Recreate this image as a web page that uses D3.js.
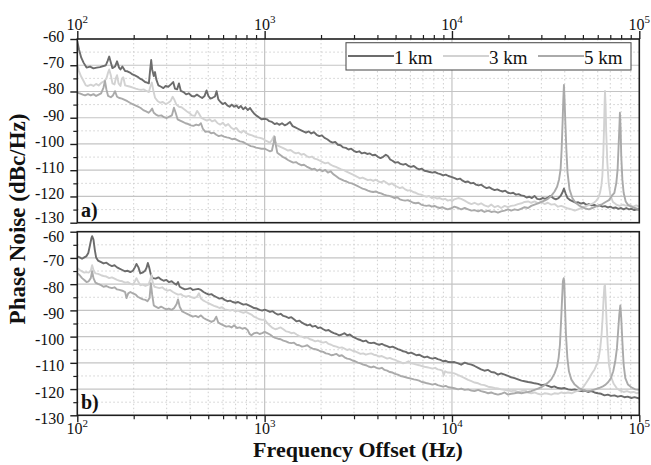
<!DOCTYPE html>
<html>
<head>
<meta charset="utf-8">
<script src="https://cdn.jsdelivr.net/npm/d3@7"></script>
<style>
  body { margin: 0; background: #fff; }
  svg { display: block; font-family: "Liberation Serif", "Times New Roman", serif; }
</style>
</head>
<body>
<svg id="chart" width="651" height="465"></svg>
<script>
// ---- data (frequency offset in Hz, phase noise in dBc/Hz) ----
var seriesNames = ['1 km', '3 km', '5 km'];
var yMajorTicks = [-60, -70, -80, -90, -100, -110, -120, -130];
var yMinorTicks = [-65, -75, -85, -95, -105, -115, -125];
var xDecades = [100, 1000, 10000, 100000];
var xDecadeExp = ['2', '3', '4', '5'];

// panel a)
var top1km = [[100,-60.8],[102,-63.9],[105,-67.1],[108,-69.0],[112,-70.9],[117,-70.5],[122,-71.2],[127,-70.9],[132,-70.7],[138,-70.3],[142,-70.0],[145,-68.4],[148,-66.7],[151,-69.0],[154,-71.1],[159,-70.5],[163,-68.5],[167,-70.9],[170,-71.6],[174,-70.5],[180,-72.2],[185,-72.3],[191,-72.8],[197,-73.5],[203,-73.9],[210,-74.4],[216,-75.1],[223,-75.6],[230,-76.4],[236,-76.6],[241,-76.9],[245,-71.6],[248,-68.0],[251,-71.6],[256,-74.1],[260,-72.6],[264,-75.4],[271,-77.7],[280,-78.2],[288,-78.7],[296,-77.9],[306,-78.2],[316,-77.3],[325,-76.4],[332,-78.9],[341,-79.2],[349,-76.9],[357,-79.8],[369,-80.2],[381,-81.1],[394,-80.7],[408,-81.7],[421,-81.9],[435,-81.2],[450,-81.9],[464,-82.5],[478,-81.7],[490,-79.6],[501,-81.7],[513,-82.7],[527,-82.4],[543,-81.9],[554,-79.9],[566,-83.0],[581,-84.0],[598,-84.8],[615,-84.3],[632,-85.3],[650,-85.8],[668,-85.0],[687,-85.8],[707,-85.3],[727,-86.3],[747,-85.5],[768,-86.8],[790,-86.0],[813,-87.1],[836,-86.3],[860,-87.6],[884,-88.6],[909,-89.3],[935,-89.9],[962,-90.6],
  [1000,-90.4],[1029,-90.6],[1059,-91.3],[1094,-91.6],[1131,-92.4],[1164,-92.1],[1197,-92.7],[1238,-92.1],[1279,-92.9],[1321,-92.4],[1365,-91.6],[1411,-93.2],[1458,-93.7],[1506,-94.2],[1556,-94.7],[1608,-95.2],[1662,-95.7],[1717,-95.2],[1774,-96.0],[1833,-95.5],[1894,-96.5],[1957,-97.0],[2022,-96.7],[2089,-97.7],[2159,-98.2],[2231,-99.0],[2305,-99.5],[2381,-99.2],[2461,-100.3],[2543,-100.5],[2627,-101.3],[2714,-101.5],[2804,-102.1],[2898,-101.8],[2994,-102.6],[3094,-103.1],[3197,-102.8],[3303,-103.6],[3414,-103.3],[3527,-103.8],[3644,-103.6],[3766,-104.3],[3891,-104.1],[4021,-104.9],[4155,-105.4],[4293,-104.9],[4436,-104.1],[4546,-104.6],[4679,-105.9],[4815,-106.4],[4975,-107.1],[5140,-106.9],[5311,-107.6],[5487,-107.9],[5670,-107.6],[5858,-108.4],[6054,-108.7],[6255,-108.4],[6463,-109.2],[6678,-109.7],[6900,-109.4],[7131,-110.2],[7367,-110.4],[7613,-110.7],[7866,-110.9],[8128,-110.7],[8398,-111.2],[8678,-111.5],[8966,-112.0],[9264,-111.7],[9572,-112.2],
  [10000,-112.6],[10330,-113.0],[10680,-113.5],[11030,-113.2],[11400,-114.0],[11780,-114.5],[12180,-114.3],[12580,-115.0],[13000,-114.8],[13430,-115.5],[13880,-115.8],[14340,-115.5],[14820,-116.3],[15310,-116.8],[15820,-116.5],[16340,-117.1],[16890,-117.6],[17450,-117.3],[18030,-117.8],[18630,-118.1],[19250,-117.8],[19890,-118.6],[20550,-118.8],[21230,-118.6],[21940,-119.3],[22670,-119.1],[23420,-119.6],[24200,-119.8],[25010,-120.4],[25840,-120.1],[26700,-120.6],[27580,-119.8],[28500,-120.9],[29450,-121.1],[30430,-120.6],[31460,-120.9],[32500,-120.4],[33590,-119.8],[34700,-120.6],[35850,-121.1],[37050,-120.6],[38000,-119.8],[38800,-118.6],[39600,-117.0],[40400,-118.8],[41400,-120.6],[42800,-121.4],[44200,-121.9],[45700,-122.4],[47200,-122.2],[48800,-122.7],[50400,-122.4],[52100,-123.2],[53800,-122.9],[55600,-123.4],[57500,-123.2],[59400,-123.7],[61400,-123.4],[63500,-123.9],[65600,-123.7],[67900,-124.2],[70000,-123.9],[72300,-124.4],[74700,-124.2],[77300,-124.7],[79900,-124.4],[82500,-124.9],[85200,-124.4],[88100,-124.9],[91000,-124.7],[94100,-125.2],[97200,-124.9],[100000,-125.0]];

var top3km = [[100,-69.7],[102,-72.2],[105,-74.4],[108,-76.0],[111,-77.7],[114,-77.9],[118,-77.4],[122,-77.9],[126,-77.1],[130,-77.7],[135,-76.6],[139,-76.1],[143,-75.1],[146,-72.8],[148,-71.6],[151,-73.8],[154,-76.9],[158,-77.3],[161,-74.7],[163,-73.8],[166,-76.9],[170,-77.9],[173,-75.1],[176,-74.6],[180,-77.7],[185,-77.9],[192,-78.2],[198,-78.5],[205,-78.9],[212,-79.2],[219,-79.4],[226,-79.2],[234,-79.8],[241,-80.2],[246,-77.9],[250,-76.6],[255,-79.8],[260,-82.4],[268,-83.6],[277,-84.3],[286,-84.0],[296,-84.8],[306,-84.3],[315,-83.6],[323,-82.0],[329,-83.0],[338,-85.0],[349,-85.8],[360,-86.0],[372,-86.8],[385,-87.6],[398,-88.3],[410,-89.1],[424,-89.3],[436,-87.4],[445,-88.3],[460,-90.1],[476,-90.6],[492,-91.1],[508,-90.6],[525,-91.4],[543,-90.9],[561,-92.1],[580,-92.6],[598,-91.9],[618,-93.1],[639,-92.4],[661,-93.7],[683,-94.4],[706,-93.9],[730,-95.2],[752,-95.7],[772,-94.9],[799,-95.9],[826,-96.4],[858,-96.7],[886,-97.2],[916,-97.5],[946,-97.7],[977,-98.0],
  [1000,-98.5],[1033,-99.0],[1068,-99.5],[1094,-98.5],[1122,-97.0],[1140,-99.2],[1168,-100.5],[1207,-101.0],[1248,-101.5],[1290,-102.0],[1332,-102.5],[1376,-102.3],[1422,-103.1],[1470,-103.6],[1518,-103.3],[1569,-104.1],[1621,-103.8],[1676,-104.6],[1731,-105.1],[1788,-104.8],[1848,-105.6],[1909,-105.9],[1973,-106.4],[2038,-106.9],[2107,-107.4],[2177,-107.1],[2249,-107.9],[2323,-108.4],[2401,-108.7],[2480,-109.2],[2563,-109.7],[2648,-110.0],[2737,-110.5],[2828,-111.0],[2922,-111.5],[3020,-112.0],[3120,-112.5],[3224,-113.1],[3332,-112.8],[3442,-113.3],[3557,-113.8],[3674,-113.6],[3797,-114.1],[3924,-113.6],[4055,-114.3],[4189,-114.6],[4328,-114.1],[4472,-114.8],[4621,-115.5],[4775,-115.0],[4934,-115.8],[5098,-116.3],[5268,-116.8],[5443,-116.5],[5624,-117.3],[5811,-117.8],[6005,-117.6],[6204,-118.3],[6411,-118.6],[6624,-119.1],[6845,-119.3],[7072,-119.8],[7308,-120.1],[7551,-119.8],[7802,-120.6],[8062,-120.3],[8330,-120.8],[8607,-120.6],[8894,-121.1],[9190,-120.9],[9495,-121.6],[9811,-121.3],
  [10000,-121.8],[10300,-121.1],[10800,-120.6],[11200,-120.9],[11700,-121.6],[12200,-122.4],[12700,-122.9],[13200,-122.4],[13800,-123.1],[14300,-122.6],[14900,-123.4],[15600,-123.9],[16200,-123.1],[16900,-124.1],[17600,-123.6],[18300,-124.4],[19100,-123.6],[19900,-124.1],[20700,-123.6],[21600,-123.4],[22500,-122.9],[23500,-122.6],[24400,-122.1],[25500,-121.9],[26500,-122.4],[27600,-121.9],[28800,-122.6],[30000,-122.1],[31200,-122.9],[32500,-122.4],[33900,-123.1],[35300,-122.9],[36800,-123.9],[38300,-123.6],[39900,-124.1],[41700,-124.6],[43500,-124.9],[45200,-125.4],[47100,-124.9],[49100,-124.4],[51100,-123.9],[53200,-123.4],[55400,-122.9],[57300,-122.4],[59000,-121.6],[60400,-120.6],[61700,-118.6],[62700,-116.0],[63500,-112.2],[64200,-104.6],[64800,-94.4],[65300,-84.3],[65600,-79.8],[66100,-85.5],[66600,-95.7],[67500,-107.1],[68600,-114.7],[70000,-119.3],[72300,-122.1],[75400,-123.1],[78500,-123.6],[81800,-123.1],[85200,-123.6],[88800,-123.1],[92500,-123.9],[96400,-123.4],[100000,-123.9]];

var top5km = [[100,-80.5],[103,-80.7],[107,-81.2],[110,-81.5],[114,-81.0],[118,-81.5],[122,-81.0],[126,-81.7],[130,-81.2],[134,-80.7],[138,-78.5],[140.5,-76.0],[143,-79.2],[146,-81.7],[151,-82.2],[155,-81.5],[159,-79.9],[163,-82.0],[168,-82.5],[173,-82.7],[179,-83.2],[185,-83.7],[191,-84.3],[197,-84.8],[204,-85.3],[211,-85.8],[218,-86.3],[225,-87.1],[233,-87.6],[240,-88.1],[246,-87.4],[251,-86.5],[256,-88.1],[263,-88.8],[271,-89.3],[281,-89.1],[290,-89.8],[300,-90.1],[310,-89.6],[320,-89.1],[328,-86.2],[335,-88.1],[343,-90.6],[354,-91.1],[366,-91.6],[378,-92.1],[391,-92.4],[404,-92.9],[417,-93.1],[431,-92.6],[445,-92.9],[457,-92.1],[468,-94.2],[483,-95.4],[501,-95.2],[518,-95.9],[535,-95.7],[552,-96.5],[569,-97.0],[588,-96.7],[607,-97.2],[628,-97.5],[648,-97.7],[670,-98.2],[692,-98.0],[715,-98.5],[739,-99.0],[764,-99.2],[790,-99.8],[816,-100.3],[843,-100.8],[871,-101.0],[900,-101.4],[930,-101.6],[961,-101.8],
  [1000,-101.8],[1033,-102.3],[1068,-102.8],[1094,-102.5],[1117,-99.5],[1131,-97.2],[1145,-100.1],[1168,-103.3],[1207,-104.1],[1248,-104.9],[1290,-105.4],[1332,-106.1],[1376,-106.6],[1422,-107.1],[1470,-106.9],[1518,-107.6],[1569,-108.1],[1621,-107.9],[1676,-108.6],[1731,-109.1],[1788,-109.7],[1848,-109.4],[1909,-110.2],[1973,-109.7],[2038,-110.4],[2107,-109.9],[2177,-110.9],[2249,-110.4],[2323,-111.5],[2401,-112.2],[2480,-113.0],[2563,-113.5],[2648,-114.0],[2737,-114.3],[2828,-114.8],[2922,-115.0],[3020,-115.5],[3120,-116.0],[3224,-116.5],[3332,-117.0],[3442,-117.3],[3557,-117.8],[3674,-118.1],[3797,-118.3],[3924,-118.1],[4055,-118.6],[4189,-118.8],[4328,-119.3],[4472,-119.6],[4621,-119.8],[4775,-120.1],[4934,-120.6],[5098,-120.3],[5268,-121.1],[5443,-121.4],[5624,-121.6],[5811,-121.4],[6005,-121.9],[6204,-122.4],[6411,-122.6],[6624,-122.4],[6845,-123.1],[7072,-123.4],[7308,-123.6],[7551,-123.4],[7802,-123.9],[8062,-123.6],[8330,-124.1],[8607,-124.4],[8894,-124.1],[9190,-124.6],[9495,-124.9],[9811,-124.6],
  [10000,-124.4],[10300,-123.9],[10800,-124.4],[11200,-124.9],[11700,-124.4],[12200,-124.9],[12700,-125.4],[13200,-125.2],[13800,-125.7],[14300,-125.2],[14900,-125.9],[15600,-125.4],[16200,-125.9],[16900,-125.7],[17600,-126.2],[18300,-125.7],[19100,-125.4],[19900,-124.9],[20700,-125.4],[21600,-124.9],[22500,-125.2],[23500,-124.6],[24400,-124.1],[25500,-124.4],[26500,-123.6],[27600,-123.1],[28800,-122.6],[30000,-122.1],[31200,-121.6],[32500,-120.9],[33900,-119.8],[35300,-118.1],[36400,-116.3],[37300,-113.5],[38000,-109.7],[38500,-102.0],[39000,-90.6],[39300,-83.0],[39600,-77.5],[39900,-83.0],[40300,-91.9],[40800,-102.0],[41400,-110.9],[42400,-117.3],[43900,-120.6],[45700,-122.4],[47600,-123.4],[49600,-124.1],[51700,-124.6],[53800,-124.9],[56100,-124.4],[58500,-123.9],[60900,-123.4],[63500,-122.9],[66100,-122.1],[68900,-121.4],[71300,-119.8],[73600,-118.6],[75400,-114.8],[76600,-109.7],[77400,-102.0],[78200,-94.4],[78800,-88.1],[79500,-94.4],[80100,-104.6],[81200,-113.5],[82500,-118.6],[84600,-121.9],[87400,-123.4],[91000,-123.9],[94600,-124.4],[100000,-124.9]];

// panel b)
var bot1km = [[100,-69.4],[103,-69.8],[106,-70.3],[109,-69.8],[112,-69.3],[114.5,-68.1],[117,-65.0],[119,-62.4],[120,-61.7],[122,-63.0],[124,-66.9],[126,-69.8],[129,-71.0],[134,-71.6],[138,-72.1],[143,-71.8],[148,-72.6],[153,-73.1],[158,-72.8],[163,-73.6],[168,-74.1],[174,-74.6],[180,-75.1],[186,-74.9],[192,-75.4],[198,-74.9],[203,-73.6],[207,-72.3],[212,-73.6],[217,-75.9],[223,-75.6],[230,-74.9],[234,-73.8],[238,-71.9],[242,-73.6],[247,-76.4],[253,-77.7],[262,-77.9],[271,-77.4],[280,-78.2],[289,-78.7],[299,-78.4],[308,-79.2],[319,-78.9],[329,-79.7],[338,-80.2],[345,-79.2],[352,-81.0],[363,-81.5],[375,-82.0],[388,-81.8],[401,-81.5],[414,-82.2],[428,-82.0],[442,-81.8],[457,-82.2],[472,-83.0],[487,-83.5],[504,-84.0],[520,-83.8],[537,-84.5],[555,-85.0],[573,-85.5],[593,-85.3],[612,-86.0],[633,-86.5],[654,-86.3],[675,-86.8],[699,-87.1],[722,-86.8],[745,-87.3],[770,-87.8],[796,-87.6],[823,-88.1],[850,-88.6],[878,-89.1],[910,-89.3],[940,-89.8],[970,-90.1],
  [1000,-89.7],[1033,-90.1],[1068,-90.6],[1103,-90.3],[1140,-91.1],[1178,-91.6],[1218,-91.3],[1258,-92.1],[1300,-92.4],[1343,-92.9],[1388,-92.6],[1434,-93.4],[1482,-94.2],[1531,-93.9],[1582,-94.7],[1634,-95.2],[1689,-95.7],[1745,-95.4],[1803,-96.2],[1863,-95.9],[1925,-96.7],[1989,-96.5],[2055,-97.2],[2123,-97.7],[2194,-97.5],[2267,-98.2],[2342,-98.7],[2420,-99.0],[2501,-99.5],[2584,-99.2],[2670,-98.7],[2758,-99.5],[2850,-99.2],[2945,-100.0],[3043,-100.5],[3146,-101.0],[3250,-101.3],[3359,-101.8],[3470,-101.5],[3585,-102.3],[3705,-102.5],[3828,-102.3],[3955,-102.8],[4087,-103.1],[4223,-102.8],[4364,-103.3],[4509,-103.6],[4659,-104.1],[4815,-103.8],[4975,-104.3],[5140,-104.8],[5311,-105.1],[5487,-105.6],[5670,-105.8],[5858,-106.4],[6054,-106.1],[6255,-106.6],[6463,-107.1],[6678,-106.9],[6900,-107.4],[7131,-107.9],[7367,-107.6],[7613,-108.1],[7866,-108.4],[8128,-108.1],[8398,-108.6],[8678,-108.9],[8966,-109.4],[9264,-109.2],[9572,-109.7],
  [10000,-109.8],[10300,-109.7],[10800,-110.2],[11200,-110.7],[11700,-109.9],[12200,-110.4],[12700,-110.7],[13200,-111.2],[13800,-111.9],[14300,-112.5],[14900,-113.0],[15600,-112.7],[16200,-113.5],[16900,-113.7],[17600,-114.5],[18300,-114.0],[19100,-114.5],[19900,-115.0],[20700,-115.5],[21600,-115.8],[22500,-116.3],[23500,-116.8],[24400,-117.0],[25500,-117.3],[26500,-117.5],[27600,-117.8],[28800,-118.0],[30000,-118.5],[31200,-118.3],[32600,-118.8],[33900,-119.3],[35200,-119.0],[36800,-119.6],[38400,-119.8],[39900,-119.6],[41700,-120.1],[43500,-120.3],[45200,-120.1],[47100,-120.6],[49100,-120.8],[51100,-120.6],[53200,-121.1],[55400,-120.8],[57700,-121.3],[60100,-121.6],[62600,-121.8],[65200,-122.4],[67900,-122.1],[70700,-122.6],[73700,-122.4],[76700,-122.9],[79900,-122.6],[83300,-123.1],[86700,-122.9],[90700,-123.4],[94300,-123.1],[100000,-123.6]];

var bot3km = [[100,-73.8],[103,-74.6],[106,-75.1],[109,-75.6],[112,-75.4],[115,-75.6],[118,-74.9],[120,-72.8],[122,-74.6],[125,-75.9],[129,-76.1],[134,-76.6],[138,-76.9],[143,-77.1],[148,-77.7],[153,-77.4],[158,-77.9],[163,-78.4],[168,-78.7],[174,-78.9],[180,-79.4],[186,-79.2],[192,-79.9],[198,-80.2],[203,-78.9],[207,-77.7],[212,-79.2],[217,-80.4],[224,-80.2],[231,-80.7],[240,-80.2],[245,-78.3],[249,-76.5],[252,-78.9],[258,-81.0],[265,-81.2],[274,-81.5],[284,-81.2],[293,-82.0],[303,-82.5],[313,-82.2],[324,-83.0],[334,-83.5],[345,-84.0],[357,-83.8],[369,-84.5],[381,-84.8],[394,-84.5],[408,-85.0],[421,-85.3],[435,-84.8],[446,-83.5],[457,-85.5],[472,-86.3],[487,-86.8],[504,-87.3],[520,-87.8],[537,-88.3],[555,-88.6],[573,-89.1],[593,-88.8],[612,-89.6],[633,-89.8],[654,-90.1],[675,-89.8],[699,-90.4],[722,-90.1],[745,-90.6],[770,-90.9],[796,-90.6],[823,-91.1],[850,-91.6],[878,-92.4],[910,-92.9],[940,-93.4],[970,-93.6],
  [1000,-93.5],[1033,-94.8],[1068,-95.9],[1103,-96.7],[1140,-97.2],[1178,-96.9],[1218,-96.5],[1258,-97.2],[1300,-98.0],[1343,-98.2],[1388,-98.7],[1434,-98.5],[1482,-99.2],[1531,-99.8],[1582,-100.0],[1634,-100.5],[1689,-100.3],[1745,-101.0],[1803,-101.3],[1863,-101.8],[1925,-101.5],[1989,-102.0],[2055,-102.3],[2123,-102.0],[2194,-102.8],[2267,-103.1],[2342,-103.6],[2420,-103.8],[2501,-104.3],[2584,-104.1],[2670,-104.6],[2758,-105.1],[2850,-104.8],[2945,-105.4],[3043,-105.6],[3146,-106.1],[3250,-106.6],[3359,-106.4],[3470,-106.9],[3585,-106.6],[3705,-106.4],[3828,-106.9],[3955,-107.1],[4087,-107.6],[4223,-107.4],[4364,-107.9],[4509,-108.4],[4659,-108.1],[4815,-108.6],[4975,-108.9],[5140,-109.4],[5311,-109.7],[5487,-110.2],[5670,-109.9],[5858,-109.4],[6054,-110.2],[6255,-110.4],[6463,-110.7],[6678,-110.9],[6900,-111.2],[7131,-111.5],[7367,-111.7],[7613,-111.9],[7866,-112.2],[8128,-111.9],[8398,-112.5],[8678,-112.7],[8894,-113.0],[9040,-114.7],[9190,-113.2],[9495,-113.7],
  [10000,-113.8],[10300,-114.0],[10800,-114.7],[11200,-115.2],[11700,-115.8],[12200,-116.5],[12700,-117.0],[13200,-117.5],[13800,-117.8],[14300,-118.3],[14900,-118.5],[15600,-119.1],[16200,-119.3],[16900,-119.6],[17600,-119.8],[18300,-120.1],[19100,-120.3],[19900,-120.6],[20700,-120.8],[21600,-120.6],[22500,-121.1],[23500,-120.8],[24400,-120.3],[25500,-121.3],[26500,-121.6],[27600,-121.3],[28800,-121.8],[30000,-122.1],[31200,-121.6],[32600,-121.8],[33900,-122.1],[35200,-121.6],[36800,-121.8],[38400,-121.3],[39900,-121.6],[41700,-121.3],[43500,-121.6],[45200,-121.1],[47100,-120.6],[49100,-120.1],[50700,-118.8],[52400,-117.3],[54100,-115.8],[55900,-114.0],[57700,-112.5],[59400,-110.4],[60700,-108.1],[61900,-104.3],[62900,-99.2],[63700,-92.9],[64500,-85.3],[65100,-80.8],[65600,-80.4],[66100,-85.3],[66900,-94.2],[67800,-103.1],[68900,-110.7],[70600,-115.2],[73000,-118.0],[76000,-119.8],[79200,-120.6],[82500,-121.1],[86000,-120.8],[89500,-121.3],[93300,-121.1],[97200,-121.6],[100000,-121.3]];

var bot5km = [[100,-75.8],[103,-76.6],[106,-77.7],[109,-78.4],[112,-79.2],[115,-78.9],[118,-77.7],[120,-75.1],[122,-77.7],[125,-79.4],[129,-79.9],[134,-80.4],[138,-81.0],[143,-80.7],[148,-81.2],[153,-81.5],[158,-81.2],[163,-82.0],[168,-82.2],[174,-82.5],[180,-83.0],[183,-85.3],[187,-83.5],[192,-83.0],[198,-83.5],[205,-84.0],[210,-84.8],[217,-85.3],[224,-85.8],[231,-86.0],[237,-86.5],[243,-85.3],[247,-79.6],[251,-84.0],[256,-88.1],[262,-88.6],[271,-89.1],[280,-88.6],[289,-89.1],[299,-89.6],[308,-89.3],[319,-89.8],[329,-89.1],[339,-87.6],[345,-85.8],[352,-88.6],[363,-90.4],[375,-90.9],[388,-91.4],[401,-91.9],[414,-92.4],[428,-92.1],[442,-92.6],[457,-91.9],[472,-92.9],[487,-93.4],[504,-93.9],[520,-94.4],[537,-93.9],[552,-92.4],[566,-94.7],[585,-95.2],[604,-95.7],[624,-96.2],[645,-96.0],[666,-96.5],[688,-95.7],[712,-96.7],[736,-96.5],[760,-97.0],[786,-96.7],[812,-97.5],[832,-99.0],[850,-99.5],[878,-98.7],[910,-98.5],[940,-99.0],[970,-98.7],
  [1000,-98.2],[1033,-98.7],[1068,-99.2],[1103,-100.0],[1140,-100.5],[1178,-100.8],[1218,-101.0],[1258,-101.5],[1300,-101.8],[1343,-102.3],[1388,-102.5],[1434,-102.3],[1482,-103.1],[1531,-103.3],[1582,-103.8],[1634,-103.6],[1689,-103.3],[1745,-104.1],[1803,-104.6],[1863,-104.8],[1925,-105.1],[1989,-105.6],[2055,-105.8],[2123,-106.4],[2194,-106.6],[2267,-107.1],[2342,-106.9],[2420,-106.6],[2501,-107.4],[2584,-107.1],[2670,-107.9],[2758,-108.4],[2850,-108.6],[2945,-109.1],[3043,-109.4],[3146,-109.9],[3250,-110.2],[3359,-110.7],[3470,-110.9],[3585,-111.4],[3705,-111.7],[3828,-111.4],[3955,-111.9],[4087,-112.2],[4223,-111.9],[4364,-112.7],[4509,-113.0],[4659,-113.5],[4815,-113.7],[4975,-114.2],[5140,-114.5],[5311,-115.0],[5487,-115.2],[5670,-115.5],[5858,-115.8],[6054,-116.0],[6255,-116.3],[6463,-116.5],[6678,-116.8],[6900,-117.3],[7131,-117.5],[7367,-117.8],[7613,-118.0],[7866,-118.3],[8128,-118.0],[8398,-118.5],[8678,-118.8],[8966,-119.1],[9264,-118.8],[9572,-119.3],
  [10000,-119.5],[10300,-119.7],[10800,-120.1],[11200,-119.8],[11700,-120.3],[12200,-120.1],[12700,-120.6],[13200,-120.8],[13800,-120.3],[14300,-120.8],[14900,-121.1],[15600,-121.6],[16200,-121.3],[16900,-121.8],[17600,-122.1],[18300,-121.8],[19100,-121.3],[19900,-122.1],[20700,-121.8],[21600,-121.6],[22500,-121.3],[23500,-121.6],[24400,-121.3],[25500,-121.1],[26500,-120.8],[27600,-120.3],[28800,-119.8],[30000,-119.3],[31200,-118.5],[32600,-117.5],[33900,-116.3],[35300,-114.0],[36400,-111.4],[37100,-108.1],[37700,-103.1],[38300,-92.9],[38800,-84.0],[39100,-78.9],[39500,-77.7],[39800,-79.6],[40100,-87.8],[40600,-99.2],[41300,-108.1],[42100,-113.2],[43400,-116.4],[45200,-118.3],[47600,-119.6],[50000,-120.3],[52600,-120.8],[55200,-120.6],[58000,-120.1],[60900,-119.6],[63500,-119.1],[66100,-118.3],[68300,-117.3],[70600,-115.8],[72600,-113.2],[74400,-109.4],[76000,-104.3],[77300,-96.7],[78200,-91.6],[79200,-88.1],[80100,-92.9],[81200,-101.8],[82500,-110.7],[84200,-115.8],[87000,-118.3],[90600,-119.3],[95200,-120.1],[100000,-120.3]];

// ---- styles ----
var lineColors = ['#6c6c6c', '#d2d2d2', '#aaaaaa'];
var frameColor = '#1e1e1e';

var svg = d3.select('#chart');

var x = d3.scaleLog().domain([100, 100000]).range([77.3, 639.3]);

// minor x positions: 2..9 times each decade
var xMinor = [];
xDecades.slice(0, 3).forEach(function (d) {
  for (var k = 2; k <= 9; k++) xMinor.push(d * k);
});

// tick label nudges (px) so the two stacked axes do not collide
var panels = [
  { y: d3.scaleLinear().domain([-130, -60]).range([222.7, 39]), series: [top1km, top3km, top5km], label: 'a)', labelY: 217,
    nudge: function (d) { return d === -130 ? -5.5 : -3; } },
  { y: d3.scaleLinear().domain([-130, -60]).range([415.3, 231.7]), series: [bot1km, bot3km, bot5km], label: 'b)', labelY: 409,
    nudge: function (d) { return d === -60 ? 4.5 : 2.5; } }
];

panels.forEach(function (p, pi) {
  var y = p.y;
  var y0 = y.range()[1], y1 = y.range()[0];
  var x0 = x.range()[0], x1 = x.range()[1];
  var g = svg.append('g');

  // dotted minor grid
  g.selectAll('.hmin').data(yMinorTicks).enter().append('line')
    .attr('x1', x0).attr('x2', x1)
    .attr('y1', function (d) { return y(d); }).attr('y2', function (d) { return y(d); })
    .attr('stroke', '#cfcfcf').attr('stroke-width', 1).attr('stroke-dasharray', '1.5,2.5');
  g.selectAll('.vmin').data(xMinor).enter().append('line')
    .attr('x1', function (d) { return x(d); }).attr('x2', function (d) { return x(d); })
    .attr('y1', y0).attr('y2', y1)
    .attr('stroke', '#cfcfcf').attr('stroke-width', 1).attr('stroke-dasharray', '1.5,2.5');

  // solid major grid
  g.selectAll('.hmaj').data(yMajorTicks.slice(1, -1)).enter().append('line')
    .attr('x1', x0).attr('x2', x1)
    .attr('y1', function (d) { return y(d); }).attr('y2', function (d) { return y(d); })
    .attr('stroke', '#c4c4c4').attr('stroke-width', 1.2);
  g.selectAll('.vmaj').data(xDecades.slice(1, -1)).enter().append('line')
    .attr('x1', function (d) { return x(d); }).attr('x2', function (d) { return x(d); })
    .attr('y1', y0).attr('y2', y1)
    .attr('stroke', '#c4c4c4').attr('stroke-width', 1.2);

  // clip
  var clipId = 'clip' + pi;
  svg.append('clipPath').attr('id', clipId).append('rect')
    .attr('x', x0).attr('y', y0).attr('width', x1 - x0).attr('height', y1 - y0);

  var line = d3.line()
    .x(function (d) { return x(d[0]); })
    .y(function (d) { return y(d[1]); });

  g.append('g').attr('clip-path', 'url(#' + clipId + ')')
    .selectAll('path').data(p.series).enter().append('path')
    .attr('d', function (d) { return line(d3.sort(d, function (a) { return a[0]; })); })
    .attr('fill', 'none')
    .attr('stroke', function (d, i) { return lineColors[i]; })
    .attr('stroke-width', 1.9)
    .attr('stroke-linejoin', 'round');

  // frame
  g.append('rect')
    .attr('x', x0).attr('y', y0).attr('width', x1 - x0).attr('height', y1 - y0)
    .attr('fill', 'none').attr('stroke', frameColor).attr('stroke-width', 1.6);

  // left axis
  var yAxis = g.append('g').attr('transform', 'translate(' + x0 + ',0)')
    .call(d3.axisLeft(y).tickValues(yMajorTicks).tickSize(7).tickPadding(6)
      .tickFormat(function (d) { return String(d); }));
  yAxis.select('.domain').remove();
  yAxis.selectAll('line').attr('stroke', frameColor).attr('stroke-width', 1.4);
  yAxis.selectAll('text').attr('font-size', 16).attr('font-family', '"Liberation Serif", serif')
    .attr('fill', '#111').attr('dy', null)
    .attr('y', function (d) { return p.nudge(d); })
    .attr('dominant-baseline', 'central');

  var yMinAxis = g.append('g').attr('transform', 'translate(' + x0 + ',0)')
    .call(d3.axisLeft(y).tickValues(yMinorTicks).tickSize(4).tickFormat(''));
  yMinAxis.select('.domain').remove();
  yMinAxis.selectAll('line').attr('stroke', frameColor).attr('stroke-width', 1.2);

  // panel label
  g.append('text').attr('x', 81).attr('y', p.labelY)
    .attr('font-size', 20).attr('font-weight', 'bold').attr('fill', '#111')
    .text(p.label);
});

// top x axis (panel a)
var topY = panels[0].y.range()[1];
var xTop = svg.append('g').attr('transform', 'translate(0,' + topY + ')')
  .call(d3.axisTop(x).tickValues(xDecades).tickSize(8).tickFormat(''));
xTop.select('.domain').remove();
xTop.selectAll('line').attr('stroke', frameColor).attr('stroke-width', 1.4);
var xTopMin = svg.append('g').attr('transform', 'translate(0,' + topY + ')')
  .call(d3.axisTop(x).tickValues(xMinor).tickSize(4).tickFormat(''));
xTopMin.select('.domain').remove();
xTopMin.selectAll('line').attr('stroke', frameColor).attr('stroke-width', 1.2);

// bottom x axis (panel b)
var botY = panels[1].y.range()[0];
var xBot = svg.append('g').attr('transform', 'translate(0,' + botY + ')')
  .call(d3.axisBottom(x).tickValues(xDecades).tickSize(7).tickFormat(''));
xBot.select('.domain').remove();
xBot.selectAll('line').attr('stroke', frameColor).attr('stroke-width', 1.4);
var xBotMin = svg.append('g').attr('transform', 'translate(0,' + botY + ')')
  .call(d3.axisBottom(x).tickValues(xMinor).tickSize(4).tickFormat(''));
xBotMin.select('.domain').remove();
xBotMin.selectAll('line').attr('stroke', frameColor).attr('stroke-width', 1.2);

// decade labels 10^n on top and bottom
[30, 434].forEach(function (baseY) {
  var t = svg.selectAll(null).data(xDecades).enter().append('text')
    .attr('x', function (d) { return x(d); })
    .attr('y', baseY)
    .attr('text-anchor', 'middle')
    .attr('font-size', 16)
    .attr('fill', '#111');
  t.append('tspan').text('10');
  t.append('tspan').attr('dy', -7).attr('font-size', 11)
    .text(function (d, i) { return xDecadeExp[i]; });
});

// legend
var leg = svg.append('g');
leg.append('rect').attr('x', 346).attr('y', 42.7).attr('width', 285).attr('height', 27.3)
  .attr('fill', '#fff').attr('stroke', '#555').attr('stroke-width', 1.1);
var legX = [348, 443, 538];
seriesNames.forEach(function (name, i) {
  leg.append('line').attr('x1', legX[i]).attr('x2', legX[i] + 46)
    .attr('y1', 56).attr('y2', 56)
    .attr('stroke', lineColors[i]).attr('stroke-width', 1.9);
  leg.append('text').attr('x', legX[i] + 46).attr('y', 63.5)
    .attr('font-size', 19).attr('fill', '#111').text(name);
});

// axis titles
svg.append('text')
  .attr('transform', 'translate(25,219) rotate(-90)')
  .attr('text-anchor', 'middle')
  .attr('font-size', 23).attr('font-weight', 'bold').attr('fill', '#111')
  .text('Phase Noise (dBc/Hz)');
svg.append('text')
  .attr('x', 358).attr('y', 457)
  .attr('text-anchor', 'middle')
  .attr('font-size', 22).attr('font-weight', 'bold').attr('fill', '#111')
  .text('Frequency Offset (Hz)');
</script>
</body>
</html>
